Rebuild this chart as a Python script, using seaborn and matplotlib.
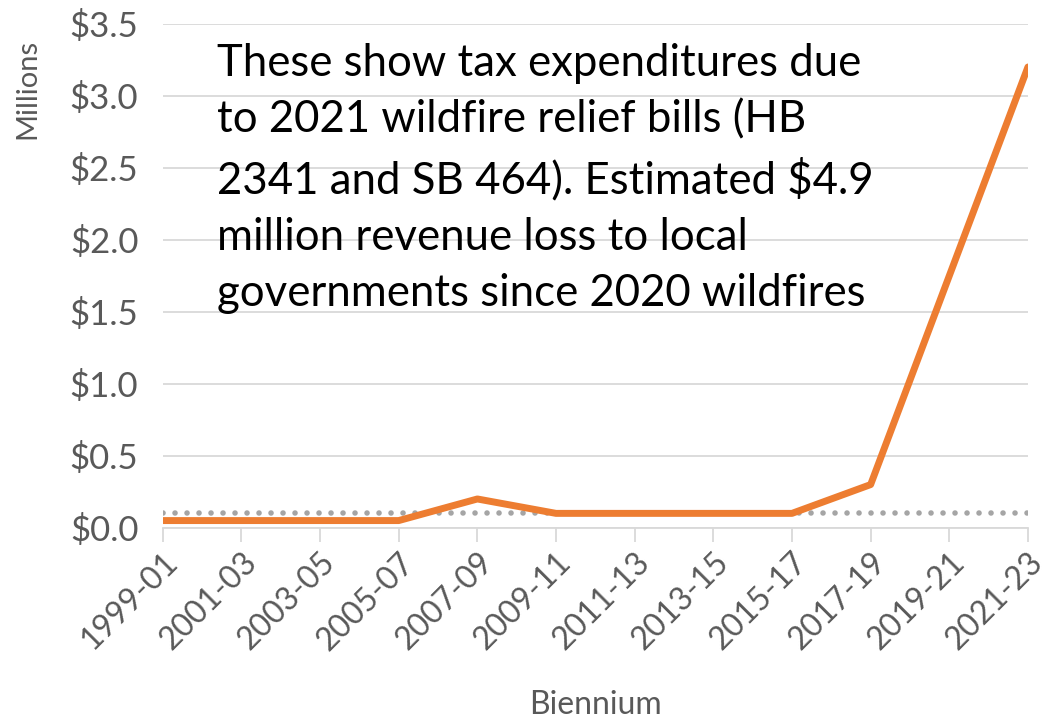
import pandas as pd
import numpy as np
import matplotlib.pyplot as plt
import seaborn as sns

# Biennium labels and values (millions of dollars)
biennia = ["1999-01", "2001-03", "2003-05", "2005-07", "2007-09", "2009-11",
           "2011-13", "2013-15", "2015-17", "2017-19", "2019-21", "2021-23"]
expenditure = [0.05, 0.05, 0.05, 0.05, 0.2, 0.1, 0.1, 0.1, 0.1, 0.3, 1.75, 3.2]
reference_level = [0.1] * len(biennia)

df = pd.DataFrame({"Biennium": biennia, "Expenditure": expenditure,
                   "Reference": reference_level})
df["pos"] = np.arange(len(df))

sns.set_style("white")
plt.rcParams["font.family"] = ["Lato", "DejaVu Sans"]

fig = plt.figure(figsize=(10.5, 7.21), dpi=100)
ax = fig.add_axes([0.155, 0.268, 0.824, 0.699])

# -------------------------------
# Lines
# -------------------------------
sns.lineplot(data=df, x="pos", y="Reference", ax=ax, color="#A5A5A5",
             linewidth=4, dashes=False, zorder=2)
ref_line = ax.lines[-1]
ref_line.set_linestyle((0, (0.01, 2.15)))
ref_line.set_dash_capstyle("round")

sns.lineplot(data=df, x="pos", y="Expenditure", ax=ax, color="#ED7D31",
             linewidth=5, zorder=3)

# -------------------------------
# Axes styling
# -------------------------------
ax.set_xlim(0, len(df) - 1)
ax.set_ylim(0, 3.5)
ax.set_yticks(np.arange(0, 3.51, 0.5))
ax.set_yticklabels([f"${v:.1f}" for v in np.arange(0, 3.51, 0.5)])
ax.set_xticks(df["pos"])
ax.set_xticklabels(df["Biennium"], rotation=45, ha="right",
                   rotation_mode="anchor")

ax.yaxis.grid(True, color="#D9D9D9", linewidth=1.3, zorder=0)
for side in ["top", "right", "left"]:
    ax.spines[side].set_visible(False)
ax.spines["bottom"].set_color("#D9D9D9")
ax.spines["bottom"].set_linewidth(1.3)

ax.tick_params(axis="x", which="both", bottom=True, length=10, width=1.3,
               color="#D9D9D9", labelsize=23, labelcolor="#595959", pad=4)
ax.tick_params(axis="y", left=False, labelsize=25, labelcolor="#595959",
               pad=14)

ax.set_xlabel("Biennium", fontsize=23, color="#595959", labelpad=25)
ax.set_ylabel("Millions", fontsize=21, color="#595959")
ax.yaxis.set_label_coords(-0.142, 0.87)

ax.text(0.063, 0.962,
        "These show tax expenditures due\n"
        "to 2021 wildfire relief bills (HB\n"
        "2341 and SB 464). Estimated $4.9\n"
        "million revenue loss to local\n"
        "governments since 2020 wildfires",
        transform=ax.transAxes, fontsize=31.5, color="black", va="top",
        ha="left", linespacing=1.47, zorder=4)

fig.savefig("out.png", dpi=100)
